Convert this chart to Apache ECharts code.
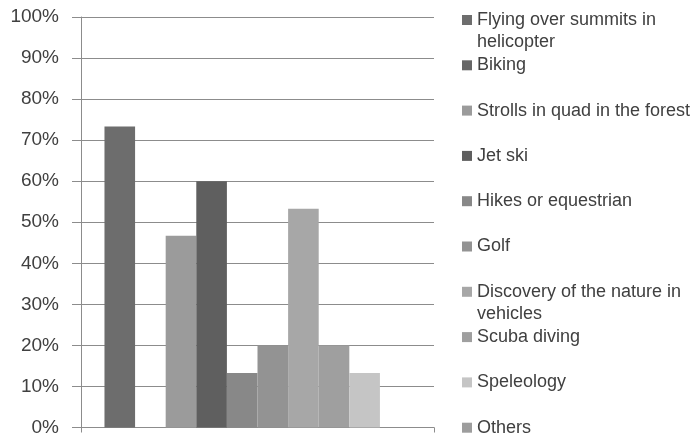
<!DOCTYPE html>
<html>
<head>
<meta charset="utf-8">
<script src="https://cdn.jsdelivr.net/npm/echarts@6/dist/echarts.min.js"></script>
<style>
html, body { margin: 0; padding: 0; background: #fff; }
#chart { width: 693px; height: 437px; }
</style>
</head>
<body>
<div id="chart"></div>
<script>
var categories = ['Activities'];
var seriesNames = [
    'Flying over summits in helicopter',
    'Biking',
    'Strolls in quad in the forest',
    'Jet ski',
    'Hikes or equestrian',
    'Golf',
    'Discovery of the nature in vehicles',
    'Scuba diving',
    'Speleology',
    'Others'
];
var seriesValues = [73.3, 0, 46.7, 60, 13.3, 20, 53.3, 20, 13.3, 0];
var colors = ['#6d6d6d', '#666666', '#9b9b9b', '#5f5f5f', '#888888',
              '#939393', '#a7a7a7', '#9f9f9f', '#c5c5c5', '#9d9d9d'];

// legend labels that wrap onto a second line; the leading blank line keeps
// the swatch level with the first line of text
var wrapped = {
    'Flying over summits in helicopter': '\nFlying over summits in\nhelicopter',
    'Discovery of the nature in vehicles': '\nDiscovery of the nature in\nvehicles'
};

var lineH = 22;
var legends = seriesNames.map(function (name, i) {
    var twoLines = !!wrapped[name];
    var center = 20 + i * 45.3;
    return {
        data: [name],
        orient: 'vertical',
        left: 462,
        top: twoLines ? center - lineH * 1.5 : center - lineH / 2,
        padding: 0,
        itemWidth: 10,
        itemHeight: 10,
        icon: 'rect',
        selectedMode: false,
        formatter: function (n) { return wrapped[n] || n; },
        textStyle: {
            fontFamily: 'Liberation Sans, Arial, sans-serif',
            fontSize: 18,
            color: '#404040',
            lineHeight: lineH
        }
    };
});

var myChart = echarts.init(document.getElementById('chart'));
var option = {
    animation: false,
    color: colors,
    legend: legends,
    grid: { left: 81, right: 259, top: 17, bottom: 9 },
    xAxis: {
        type: 'category',
        data: categories,
        axisLine: { lineStyle: { color: '#8c8c8c', width: 1 } },
        axisTick: { show: true, length: 5, lineStyle: { color: '#8c8c8c' } },
        axisLabel: { show: false }
    },
    yAxis: {
        type: 'value',
        min: 0,
        max: 100,
        interval: 10,
        axisLine: { show: true, lineStyle: { color: '#8c8c8c', width: 1 } },
        axisTick: { show: true, length: 9, lineStyle: { color: '#8c8c8c' } },
        axisLabel: {
            formatter: '{value}%',
            margin: 22,
            fontFamily: 'Liberation Sans, Arial, sans-serif',
            fontSize: 19,
            color: '#404040'
        },
        splitLine: { lineStyle: { color: '#8c8c8c', width: 1 } }
    },
    series: seriesNames.map(function (name, i) {
        return {
            name: name,
            type: 'bar',
            data: [seriesValues[i]],
            barGap: '0%',
            barCategoryGap: '13.3%'
        };
    })
};
myChart.setOption(option);
window.addEventListener('resize', function () {
    myChart.resize();
});
</script>
</body>
</html>
